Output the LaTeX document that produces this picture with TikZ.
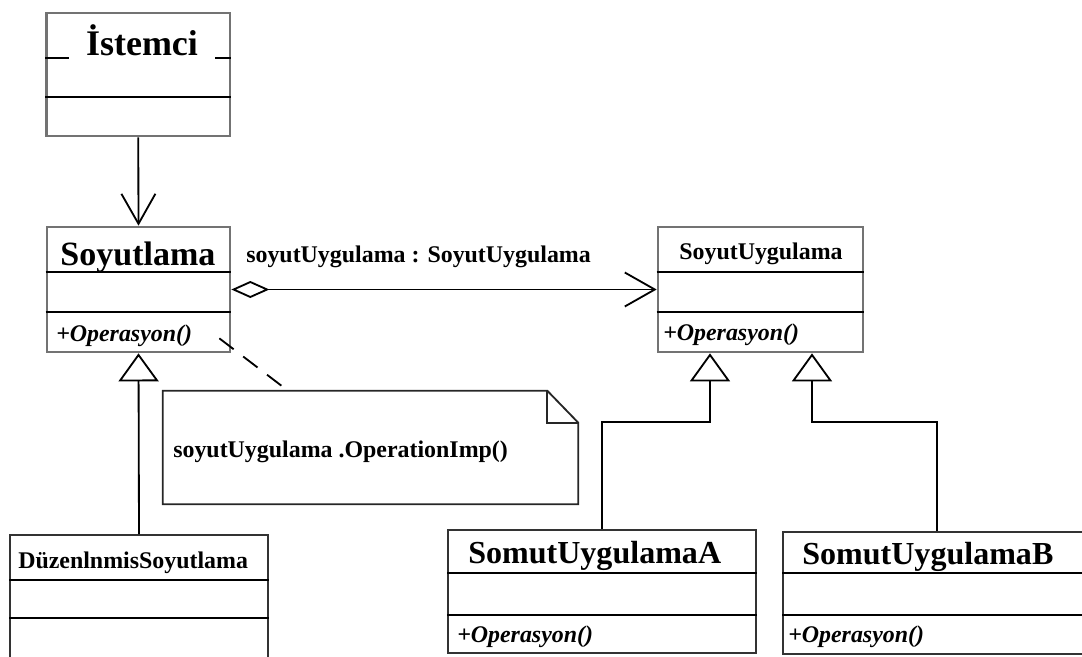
\documentclass[tikz,border=0pt]{standalone}
\usepackage{fontspec}
\setmainfont{Liberation Serif}
\usetikzlibrary{arrows.meta}

\begin{document}
\begin{tikzpicture}[x=0.25mm,y=-0.25mm,
        classbox/.style={draw=black!55,line width=1.9pt,fill=white,inner sep=0pt},
        lowbox/.style={draw=black!80,line width=1.3pt,fill=white,inner sep=0pt},
        notebox/.style={minimum width=103.75mm,minimum height=28.25mm,inner sep=0pt},
        divider/.style={line width=1.3pt},
        heading/.style={font=\fontsize{17}{20}\selectfont\bfseries,inner sep=0pt,anchor=base},
        operation/.style={font=\fontsize{17}{20}\selectfont\bfseries\itshape,inner sep=0pt,anchor=base west},
        link/.style={line width=1.3pt},
        navigable/.style={link,-{Straight Barb[length=7.5mm,width=8.5mm]}},
        inherit/.style={link,-{Triangle[open,length=7mm,width=10mm]}}
    ]

    \useasboundingbox (0,0) rectangle (1082,657);

    \node[classbox,minimum width=45.9mm,minimum height=30.75mm] (istemci) at (138.25,74.5) {};
    \draw[divider] (istemci.west |- 0,58) -- (istemci.east |- 0,58);
    \draw[divider] (istemci.west |- 0,97) -- (istemci.east |- 0,97);
    \node[heading,font=\fontsize{25.6}{28}\selectfont\bfseries,fill=white,inner xsep=4.25mm,inner ysep=0.8mm] (istemciName) at (142,56) {İstemci};

    \node[classbox,minimum width=45.75mm,minimum height=31.25mm] (soyutlama) at (138.5,289.5) {};
    \draw[divider] (soyutlama.west |- 0,272) -- (soyutlama.east |- 0,272);
    \draw[divider] (soyutlama.west |- 0,312) -- (soyutlama.east |- 0,312);
    \node[heading,font=\fontsize{24.2}{27}\selectfont\bfseries] (soyutlamaName) at (138,265) {Soyutlama};
    \node[operation] (soyutlamaOp) at (56,341) {+Operasyon()};

    \node[classbox,minimum width=51.25mm,minimum height=31.25mm] (soyutUyg) at (760.5,289.5) {};
    \draw[divider] (soyutUyg.west |- 0,272) -- (soyutUyg.east |- 0,272);
    \draw[divider] (soyutUyg.west |- 0,312) -- (soyutUyg.east |- 0,312);
    \node[heading] (soyutUygName) at (761,259) {SoyutUygulama};
    \node[operation] (soyutUygOp) at (663,340) {+Operasyon()};

    \draw[navigable] (istemci.south) -- (soyutlama.north);
    \draw[link,{Diamond[open,length=9.5mm,width=4.25mm]}-{Straight Barb[length=7.5mm,width=8.5mm]}] (soyutlama.east) -- (soyutUyg.west);
    \node[heading,anchor=base west] (roleName) at (246,263) {soyutUygulama : SoyutUygulama};

    \node[notebox] (note) at (370.5,447.5) {};
    \draw[link,draw=black!85] (note.north west) -- ([xshift=-7.75mm]note.north east) -- ([yshift=-8mm]note.north east) -- (note.south east) -- (note.south west) -- cycle;
    \draw[link,draw=black!85] ([xshift=-7.75mm]note.north east) -- ([xshift=-7.75mm,yshift=-8mm]note.north east) -- ([yshift=-8mm]note.north east);
    \node[heading,anchor=base west] (noteText) at (173,457) {soyutUygulama .OperationImp()};
    \draw[link,dash pattern=on 4.5mm off 3mm] ([xshift=-3mm,yshift=3.75mm]soyutlama.south east) -- (note.north -| 288,0);

    \node[lowbox,minimum width=64.5mm,minimum height=41.25mm] (duzen) at (139,617.5) {};
    \draw[divider] (duzen.west |- 0,580) -- (duzen.east |- 0,580);
    \draw[divider] (duzen.west |- 0,618) -- (duzen.east |- 0,618);
    \node[heading,anchor=base west] (duzenName) at (18,568) {DüzenlnmisSoyutlama};
    \draw[inherit] (duzen.north) -- (soyutlama.south);

    \node[lowbox,minimum width=77mm,minimum height=30.75mm] (somutA) at (602,591.5) {};
    \draw[divider] (somutA.west |- 0,573) -- (somutA.east |- 0,573);
    \draw[divider] (somutA.west |- 0,615) -- (somutA.east |- 0,615);
    \node[heading,anchor=base west,font=\fontsize{22.8}{26}\selectfont\bfseries] (somutAName) at (468,563) {SomutUygulamaA};
    \node[operation] (somutAOp) at (457,642) {+Operasyon()};

    \node[lowbox,minimum width=77mm,minimum height=30.5mm] (somutB) at (937,593) {};
    \draw[divider] (somutB.west |- 0,573) -- (somutB.east |- 0,573);
    \draw[divider] (somutB.west |- 0,615) -- (somutB.east |- 0,615);
    \node[heading,anchor=base west,font=\fontsize{22.8}{26}\selectfont\bfseries] (somutBName) at (802,564) {SomutUygulamaB};
    \node[operation] (somutBOp) at (788,642) {+Operasyon()};

    \coordinate (jointA) at (710,422);
    \coordinate (jointB) at (812,422);
    \draw[inherit] (somutA.north) |- (jointA) -- (jointA |- soyutUyg.south);
    \draw[inherit] (somutB.north) |- (jointB) -- (jointB |- soyutUyg.south);

\end{tikzpicture}
\end{document}
